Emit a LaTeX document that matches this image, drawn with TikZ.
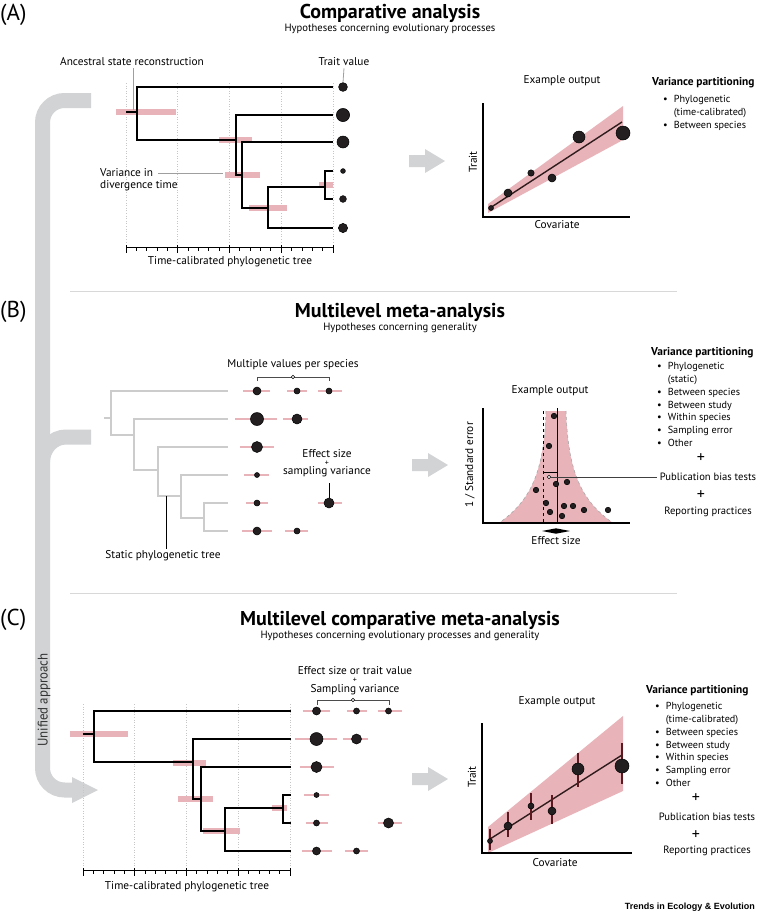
\documentclass[tikz,border=0pt]{standalone}
\usepackage{fontspec}
\setmainfont{PT Sans}
\newfontfamily\journalfont{Liberation Sans}
\usepackage{xcolor}

\definecolor{pinkbar}{RGB}{232,180,186}
\definecolor{bandgray}{RGB}{209,211,212}
\definecolor{treegray}{RGB}{204,204,204}
\definecolor{sepgray}{RGB}{216,216,216}
\definecolor{dotfill}{RGB}{35,31,32}
\definecolor{errbar}{RGB}{92,26,32}
\definecolor{fitcol}{RGB}{48,28,28}

\tikzset{
	spdot/.style={circle, fill=dotfill, draw=black, line width=0.5pt, inner sep=0pt},
	opendot/.style={circle, fill=white, draw=black, line width=0.5pt, inner sep=0pt, minimum size=3.6},
	branch/.style={line width=1.7pt, line join=miter},
	gbranch/.style={line width=1.8pt, draw=treegray, line join=miter},
	pinkrect/.style={line width=6pt, draw=pinkbar},
	sampvar/.style={line width=1.7pt, draw=pinkbar},
	gridline/.style={dotted, draw=gray!45, line width=0.6pt},
	ticks/.style={line width=0.9pt},
	leader/.style={draw=gray!75, line width=0.8pt},
	blackleader/.style={draw=black, line width=0.7pt},
	bracketline/.style={draw=black!70, line width=0.6pt},
	plotaxis/.style={line width=1.7pt, line join=miter},
	fitline/.style={draw=fitcol, line width=1.4pt},
	errline/.style={draw=errbar, line width=1.6pt},
	sepline/.style={draw=sepgray, line width=0.8pt},
	band/.style={draw=bandgray, line width=15pt, rounded corners=22pt},
	lbl/.style={inner sep=0pt, font=\fontsize{11.3}{13}\selectfont},
	smallplus/.style={inner sep=0pt, font=\fontsize{8}{8}\selectfont},
	titletxt/.style={inner sep=0pt, font=\bfseries\fontsize{20}{22}\selectfont},
	subtxt/.style={inner sep=0pt, font=\fontsize{10.6}{12}\selectfont},
	panellbl/.style={inner sep=0pt, anchor=west, font=\fontsize{23}{25}\selectfont},
	vphead/.style={inner sep=0pt, anchor=west, font=\bfseries\fontsize{11.4}{13}\selectfont},
	vplist/.style={inner sep=0pt, anchor=north west, font=\fontsize{10.2}{12.8}\selectfont},
	vptxt/.style={inner sep=0pt, font=\fontsize{10.6}{12}\selectfont},
	plustxt/.style={inner sep=0pt, font=\fontsize{16}{16}\selectfont},
}

% dots with sampling variance, one row per species
\newcommand{\sampledots}[1]{%
	\foreach \x/\y/\r/\xl/\xr [count=\i] in {257/391/4/243/270, 297/391/3/287/307, 329/391/3/318/342,
		257/419/6.5/235/277, 297/419/5/283/308, 257/447/5.5/240/274, 257/475/2.5/244/269,
		257/503/3/246/268, 329/503/5/318/342, 257/531/4/242/272, 297/531/3/285/308}{
		\draw[sampvar] (\xl, \y) -- (\xr, \y);
		\node[spdot, minimum size=2*\r] (#1\i) at (\x, \y){};
	}}

\begin{document}
\begin{tikzpicture}[x=1pt, y=-1pt]
	\useasboundingbox (0, 0) rectangle (765, 914);

	% Unified approach band
	\draw[band] (91, 100.5) -- (42.5, 100.5) -- (42.5, 790) -- (74, 790);
	\draw[draw=bandgray, line width=15pt] (91, 437) -- (66, 437) to[out=180, in=90] (42.5, 462);
	\fill[bandgray] (72, 777) -- (98, 790) -- (72, 803) -- cycle;
	\node[rotate=90, inner sep=0pt, text=black!80, font=\fontsize{14}{16}\selectfont, xscale=0.92] (unified) at (44, 700){Unified approach};

	% Separators and panel labels
	\draw[sepline] (70, 291) -- (677, 291);
	\draw[sepline] (70, 593) -- (677, 593);
	\node[panellbl] (pa) at (0, 15){(A)};
	\node[panellbl] (pb) at (0, 312){(B)};
	\node[panellbl] (pc) at (0, 620){(C)};

	% ---------------- (A) Comparative analysis
	\node[titletxt] (titA) at (390, 13){Comparative analysis};
	\node[subtxt] (subA) at (390, 29){Hypotheses concerning evolutionary processes};
	\foreach \x in {126, 177.75, 229.5, 281.25, 333}{\draw[gridline] (\x, 83) -- (\x, 243);}
	\draw[ticks] (126, 247) -- (333, 247);
	\foreach \i in {0,...,20}{\draw[ticks] (126+\i*10.35, 247) -- ++(0, 3.5);}
	\foreach \i in {0,...,4}{\draw[ticks] (126+\i*51.75, 245) -- ++(0, 8);}
	\node[lbl] (axA) at (230, 262){Time-calibrated phylogenetic tree};
	\draw[pinkrect] (116, 112) -- (176, 112);
	\draw[pinkrect] (219, 140) -- (252, 140);
	\draw[pinkrect] (225, 175) -- (260, 175);
	\draw[pinkrect] (249, 208) -- (287, 208);
	\draw[pinkrect] (319, 185) -- (333, 185);
	\draw[branch] (126, 112) -- (137, 112);
	\draw[branch] (333, 87) -| (137, 140) -- (236, 140);
	\draw[branch] (333, 115) -| (236, 175) -- (242, 175);
	\draw[branch] (333, 142) -| (242, 208) -- (268, 208);
	\draw[branch] (325, 187) -- (268, 187) |- (333, 228);
	\draw[branch] (333, 171) -| (325, 199) -- (333, 199);
	\foreach \y/\r [count=\i] in {87/4.4, 115/6.6, 142/6, 171/2.4, 199/3.4, 228/4.6}{
		\node[spdot, minimum size=2*\r] (la\i) at (343, \y){};}
	\node[lbl] (asr) at (132, 62){Ancestral state reconstruction};
	\draw[leader] ([yshift=-2pt]asr.south -| 133,0) -- (133, 110);
	\node[lbl] (tv) at (344, 62){Trait value};
	\draw[leader] ([yshift=-2pt]tv.south) -- (la1.north);
	\node[lbl, anchor=west] (vdt1) at (100, 173){Variance in};
	\node[lbl, anchor=west] (vdt2) at (100, 186){divergence time};
	\draw[leader] ([xshift=5pt]vdt1.east) -- (223, 173);

	\fill[bandgray] (409, 155) -- (425, 155) -- (425, 149) -- (445, 161) -- (425, 173) -- (425, 167) -- (409, 167) -- cycle;

	\node[lbl] (exA) at (562, 81){Example output};
	\fill[pinkbar] (488, 204) -- (623, 106) -- (623, 140) -- (488, 213) -- cycle;
	\draw[plotaxis] (483, 103) |- (630, 217);
	\draw[fitline] (490, 208) -- (622, 122);
	\foreach \x/\y/\r [count=\i] in {491/208/2.5, 508/193/4, 531/173/3.2, 552/178/4, 579/137/6, 623/133/7}{
		\node[spdot, minimum size=2*\r] (pa\i) at (\x, \y){};}
	\node[lbl, rotate=90] (trA) at (473, 162){Trait};
	\node[lbl] (cvA) at (557, 225){Covariate};
	\node[vphead] (vpA) at (652, 83){Variance partitioning};
	\node[vplist] (vlA) at (663, 93.5){\begin{tabular}{@{}l@{\hspace{6pt}}l@{}}\textbullet & Phylogenetic\\ & (time-calibrated)\\ \textbullet & Between species\end{tabular}};

	% ---------------- (B) Multilevel meta-analysis
	\node[titletxt] (titB) at (400, 312){Multilevel meta-analysis};
	\node[subtxt] (subB) at (400, 328){Hypotheses concerning generality};
	\draw[gbranch] (104, 418) -- (111, 418);
	\draw[gbranch] (228, 391) -| (111, 435) -- (134, 435);
	\draw[gbranch] (228, 419) -| (134, 470) -- (158, 470);
	\draw[gbranch] (228, 447) -| (158, 496) -- (181, 496);
	\draw[gbranch] (228, 475) -| (181, 518) -- (204, 518);
	\draw[gbranch] (228, 503) -| (204, 531) -- (228, 531);
	\sampledots{b}
	\node[lbl] (mvs) at (293, 365){Multiple values per species};
	\draw[bracketline] (257, 381) |- (329, 377) -- (329, 381);
	\node[opendot] (mvo) at (293, 377){};
	\node[lbl] (es1) at (327, 454){Effect size};
	\node[smallplus] (es2) at (327, 463){+};
	\node[lbl] (es3) at (327, 472){sampling variance};
	\draw[blackleader] (b9.north) -- ++(0, -15);
	\node[lbl] (spt) at (163, 556){Static phylogenetic tree};
	\draw[blackleader] ([yshift=2pt]spt.north -| 166,0) -- (166, 496);

	\fill[bandgray] (412, 459) -- (428, 459) -- (428, 453) -- (448, 465) -- (428, 477) -- (428, 471) -- (412, 471) -- cycle;

	\node[lbl] (exB) at (550, 391){Example output};
	\fill[pinkbar] (546, 411) -- (566, 411) .. controls (568, 470) and (580, 500) .. (613, 523)
		-- (499, 523) .. controls (532, 500) and (544, 470) .. (546, 411) -- cycle;
	\draw[dashed, gray!70, line width=0.6pt] (566, 411) .. controls (568, 470) and (580, 500) .. (613, 523);
	\draw[dashed, gray!70, line width=0.6pt] (546, 411) .. controls (544, 470) and (532, 500) .. (499, 523);
	\draw[dashed, line width=0.9pt] (543, 411) -- (543, 523);
	\draw[line width=1pt] (557, 408) -- (557, 523);
	\draw[plotaxis] (483, 408) |- (630, 523);
	\foreach \x/\y [count=\i] in {554/416, 549/446, 536/490, 556/484, 567/482, 546/503, 550/512,
		562/516, 564/506, 573/506, 584/510, 608/510}{
		\node[spdot, minimum size=5.6] (fb\i) at (\x, \y){};}
	\draw[line width=0.7pt] (543, 472) -- (557, 472);
	\node[opendot] (ocB) at (549, 477){};
	\fill (542, 531) -- (556, 528.3) -- (570, 531) -- (556, 533.7) -- cycle;
	\node[lbl, rotate=90] (seB) at (470, 465){1 / Standard error};
	\node[lbl] (esB) at (556, 541){Effect size};
	\node[vphead] (vpB) at (651, 353){Variance partitioning};
	\node[vplist] (vlB) at (657, 360.5){\begin{tabular}{@{}l@{\hspace{6pt}}l@{}}\textbullet & Phylogenetic\\ & (static)\\
		\textbullet & Between species\\ \textbullet & Between study\\ \textbullet & Within species\\
		\textbullet & Sampling error\\ \textbullet & Other\end{tabular}};
	\node[plustxt] (plB1) at (701, 458){+};
	\node[vptxt] (pbtB) at (708, 477){Publication bias tests};
	\node[plustxt] (plB2) at (701, 495){+};
	\node[vptxt] (rpB) at (708, 512){Reporting practices};
	\draw[draw=black!75, line width=0.6pt] (ocB.east) -- ([xshift=-3pt]pbtB.west);

	% ---------------- (C) Multilevel comparative meta-analysis
	\node[titletxt] (titC) at (400, 620){Multilevel comparative meta-analysis};
	\node[subtxt] (subC) at (400, 636){Hypotheses concerning evolutionary processes and generality};
	\foreach \x in {83, 134.75, 186.5, 238.25, 290}{\draw[gridline] (\x, 704) -- (\x, 866);}
	\draw[ticks] (83, 870) -- (290, 870);
	\foreach \i in {0,...,20}{\draw[ticks] (83+\i*10.35, 870) -- ++(0, 3.5);}
	\foreach \i in {0,...,4}{\draw[ticks] (83+\i*51.75, 868) -- ++(0, 8);}
	\node[lbl] (axC) at (187, 887){Time-calibrated phylogenetic tree};
	\draw[pinkrect] (70, 734) -- (128, 734);
	\draw[pinkrect] (173, 763) -- (206, 763);
	\draw[pinkrect] (178, 799) -- (213, 799);
	\draw[pinkrect] (203, 831) -- (240, 831);
	\draw[pinkrect] (272, 808) -- (287, 808);
	\draw[branch] (83, 734) -- (94, 734);
	\draw[branch] (291, 711) -| (94, 762) -- (193, 762);
	\draw[branch] (291, 739) -| (193, 799) -- (201, 799);
	\draw[branch] (291, 767) -| (201, 831) -- (225, 831);
	\draw[branch] (283, 808) -- (225, 808) |- (291, 851);
	\draw[branch] (291, 795) -| (283, 823) -- (291, 823);
	\begin{scope}[shift={(59.5, 320)}]
		\sampledots{c}
	\end{scope}
	\node[lbl] (et1) at (355, 670.5){Effect size or trait value};
	\node[smallplus] (et2) at (355, 680.5){+};
	\node[lbl] (et3) at (355, 689.5){Sampling variance};
	\draw[bracketline] (317, 705) |- (389, 700) -- (389, 705);
	\node[opendot] (mco) at (353, 700){};

	\fill[bandgray] (412, 773) -- (428, 773) -- (428, 767) -- (448, 779) -- (428, 791) -- (428, 785) -- (412, 785) -- cycle;

	\node[lbl] (exC) at (557, 702){Example output};
	\fill[pinkbar] (488, 827) -- (623, 716) -- (623, 791) -- (488, 853) -- cycle;
	\draw[plotaxis] (482, 723) |- (632, 853);
	\draw[fitline] (490, 839) -- (622, 755);
	\foreach \x/\yt/\yb/\y/\r [count=\i] in {490/829/850/841/2.5, 508/812/837/826/4, 531/793/820/806/3,
		552/795/824/811/4, 578/753/787/769/6, 622/743/784/766/7}{
		\draw[errline] (\x, \yt) -- (\x, \yb);
		\node[spdot, minimum size=2*\r] (pc\i) at (\x, \y){};}
	\node[lbl, rotate=90] (trC) at (472, 777){Trait};
	\node[lbl] (cvC) at (555, 863){Covariate};
	\node[vphead] (vpC) at (646, 691){Variance partitioning};
	\node[vplist] (vlC) at (655, 700.5){\begin{tabular}{@{}l@{\hspace{6pt}}l@{}}\textbullet & Phylogenetic\\ & (time-calibrated)\\
		\textbullet & Between species\\ \textbullet & Between study\\ \textbullet & Within species\\
		\textbullet & Sampling error\\ \textbullet & Other\end{tabular}};
	\node[plustxt] (plC1) at (696, 798){+};
	\node[vptxt] (pbtC) at (707, 817){Publication bias tests};
	\node[plustxt] (plC2) at (696, 835){+};
	\node[vptxt] (rpC) at (707, 851){Reporting practices};

	\node[inner sep=0pt, anchor=east, font=\journalfont\bfseries\fontsize{9}{10}\selectfont] (tiee) at (755, 907){Trends in Ecology \& Evolution};
\end{tikzpicture}
\end{document}
